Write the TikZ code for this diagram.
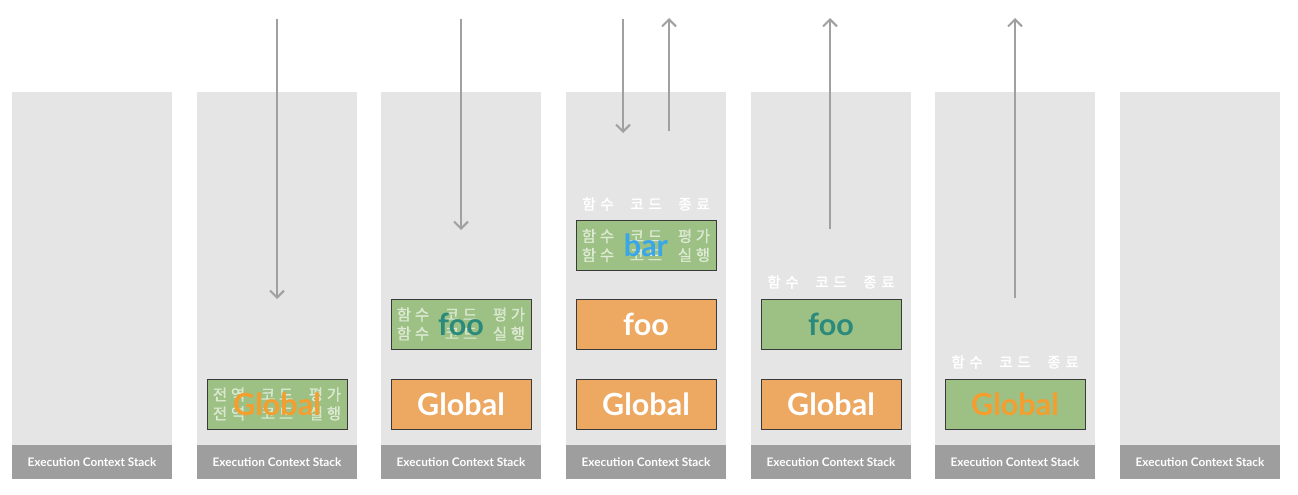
\documentclass[tikz,border=0pt]{standalone}
\usepackage{fontspec}
\setmainfont{Lato}
\newfontfamily\krfont{Noto Sans CJK KR}[FakeBold=1]
\newfontfamily\krbold{Noto Sans CJK KR}[FakeBold=2]
\usepackage{xcolor}
\usetikzlibrary{arrows.meta, positioning}

\definecolor{panelgray}{HTML}{E5E5E5}
\definecolor{footgray}{HTML}{9E9E9E}
\definecolor{boxgreen}{HTML}{9DC184}
\definecolor{boxorange}{HTML}{EDA862}
\definecolor{boxline}{HTML}{3A3A3A}
\definecolor{globalorange}{HTML}{F59E2E}
\definecolor{footeal}{HTML}{2B8A7B}
\definecolor{barblue}{HTML}{39A6E8}
\definecolor{arrowgray}{HTML}{A0A0A0}

% spaced korean line: two words of two letters plus one more word
\newcommand\krline[6]{\makebox[18pt]{#1}\makebox[18pt]{#2}\hspace{12pt}\makebox[18pt]{#3}\makebox[18pt]{#4}\hspace{12pt}\makebox[18pt]{#5}\makebox[18pt]{#6}}

\begin{document}
\begin{tikzpicture}[x=1pt, y=-1pt,
  panel/.style={rectangle, fill=panelgray, minimum width=160pt, minimum height=387pt, inner sep=0pt, anchor=north},
  footer/.style={rectangle, fill=footgray, minimum width=160pt, minimum height=34pt, inner sep=0pt, anchor=south, text=white, font=\fontsize{11.8}{13}\selectfont\bfseries},
  ctxbox/.style={rectangle, minimum width=140pt, minimum height=50pt, inner sep=0pt, draw=boxline, line width=1pt},
  gbox/.style={ctxbox, fill=boxgreen},
  obox/.style={ctxbox, fill=boxorange},
  ctxname/.style={inner sep=0pt, font=\fontsize{30.5}{32}\selectfont\bfseries},
  krtext/.style={align=center, inner sep=0pt, text=white, text opacity=0.6, font=\krfont\fontsize{15.5}{19}\selectfont},
  endlabel/.style={inner sep=0pt, text=white, font=\krbold\fontsize{14.5}{16}\selectfont},
  arrow/.style={arrowgray, line width=2pt, -{Straight Barb[length=7pt, width=14pt]}}]

  \useasboundingbox (0,0) rectangle (1298,495);

  % stack panels
  \foreach \i/\cx in {1/92, 2/277, 3/461, 4/646, 5/831, 6/1015, 7/1200} {
    \node[panel] (p\i) at (\cx,92) {};
    \node[footer] (f\i) at (p\i.south) {Execution Context Stack};
  }

  % step 2: global code
  \node[gbox] (glob2) at (277,404) {};
  \node[krtext] at (glob2) {\krline{전}{역}{코}{드}{평}{가}\\\krline{전}{역}{코}{드}{실}{행}};
  \node[ctxname, text=globalorange] at (glob2) {Global};

  % step 3: foo called
  \node[obox] (glob3) at (461,404) {};
  \node[ctxname, text=white] at (glob3) {Global};
  \node[gbox] (foo3) at (461,324) {};
  \node[krtext] at (foo3) {\krline{함}{수}{코}{드}{평}{가}\\\krline{함}{수}{코}{드}{실}{행}};
  \node[ctxname, text=footeal] at (foo3) {foo};

  % step 4: bar called and finished
  \node[obox] (glob4) at (646,404) {};
  \node[ctxname, text=white] at (glob4) {Global};
  \node[obox] (foo4) at (646,324) {};
  \node[ctxname, text=white] at (foo4) {foo};
  \node[gbox] (bar4) at (646,245.5) {};
  \node[krtext] at (bar4) {\krline{함}{수}{코}{드}{평}{가}\\\krline{함}{수}{코}{드}{실}{행}};
  \node[ctxname, text=barblue] at (bar4) {bar};
  \node[endlabel] (end4) at (646,204) {\krline{함}{수}{코}{드}{종}{료}};

  % step 5: foo finished
  \node[obox] (glob5) at (831,404) {};
  \node[ctxname, text=white] at (glob5) {Global};
  \node[gbox] (foo5) at (831,324) {};
  \node[ctxname, text=footeal] at (foo5) {foo};
  \node[endlabel] (end5) at (831,282) {\krline{함}{수}{코}{드}{종}{료}};

  % step 6: global finished
  \node[gbox] (glob6) at (1015,404) {};
  \node[ctxname, text=globalorange] at (glob6) {Global};
  \node[endlabel] (end6) at (1015,362) {\krline{함}{수}{코}{드}{종}{료}};

  % control flow arrows
  \coordinate (in2) at (277,19);
  \coordinate (in2end) at (277,299);
  \coordinate (in3) at (461,19);
  \coordinate (in3end) at (461,230);
  \coordinate (in4) at (623,19);
  \coordinate (in4end) at (623,133);
  \coordinate (out4) at (669,131);
  \coordinate (out4end) at (669,18);
  \coordinate (out5) at (830,229);
  \coordinate (out5end) at (830,18);
  \coordinate (out6) at (1015,298);
  \coordinate (out6end) at (1015,18);

  \draw[arrow] (in2) -- (in2end);
  \draw[arrow] (in3) -- (in3end);
  \draw[arrow] (in4) -- (in4end);
  \draw[arrow] (out4) -- (out4end);
  \draw[arrow] (out5) -- (out5end);
  \draw[arrow] (out6) -- (out6end);
\end{tikzpicture}
\end{document}
